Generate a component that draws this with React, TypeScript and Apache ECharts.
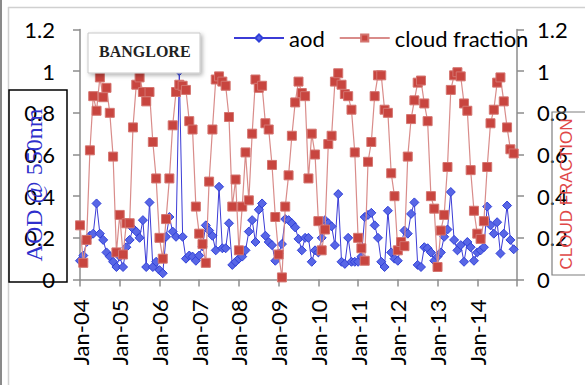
import React, { useEffect, useRef } from 'react';
import * as echarts from 'echarts';

// Year tick labels on the time axis (one tick every 12 months, Jan-2004 .. Jan-2015)
const yearTicks = ['Jan-04', 'Jan-05', 'Jan-06', 'Jan-07', 'Jan-08', 'Jan-09', 'Jan-10', 'Jan-11', 'Jan-12', 'Jan-13', 'Jan-14'];

// Monthly aerosol optical depth at 550 nm, one row per year (Jan..Dec)
const aod2004 = [0.09, 0.115, 0.18, 0.21, 0.22, 0.365, 0.22, 0.19, 0.13, 0.11, 0.085, 0.06];
const aod2005 = [0.11, 0.06, 0.155, 0.19, 0.245, 0.23, 0.2, 0.285, 0.06, 0.37, 0.06, 0.085];
const aod2006 = [0.045, 0.03, 0.205, 0.3, 0.23, 0.205, 1.0, 0.205, 0.1, 0.115, 0.11, 0.09];
const aod2007 = [0.115, 0.16, 0.26, 0.235, 0.21, 0.14, 0.445, 0.15, 0.15, 0.27, 0.07, 0.085];
const aod2008 = [0.1, 0.11, 0.14, 0.23, 0.285, 0.18, 0.335, 0.365, 0.21, 0.18, 0.165, 0.09];
const aod2009 = [0.125, 0.17, 0.29, 0.285, 0.27, 0.25, 0.195, 0.14, 0.2, 0.2, 0.085, 0.14];
const aod2010 = [0.13, 0.2, 0.285, 0.27, 0.255, 0.165, 0.41, 0.085, 0.075, 0.2, 0.085, 0.085];
const aod2011 = [0.085, 0.11, 0.3, 0.31, 0.32, 0.26, 0.2, 0.085, 0.06, 0.33, 0.13, 0.1];
const aod2012 = [0.09, 0.17, 0.235, 0.22, 0.315, 0.37, 0.07, 0.06, 0.155, 0.15, 0.13, 0.09];
const aod2013 = [0.11, 0.13, 0.205, 0.24, 0.42, 0.19, 0.14, 0.165, 0.085, 0.18, 0.155, 0.09];
const aod2014 = [0.13, 0.14, 0.155, 0.35, 0.26, 0.22, 0.275, 0.125, 0.22, 0.355, 0.19, 0.145];

// Monthly cloud fraction, one row per year (Jan..Dec)
const cf2004 = [0.26, 0.08, 0.19, 0.62, 0.88, 0.81, 0.97, 0.875, 0.92, 0.8, 0.59, 0.13];
const cf2005 = [0.31, 0.12, 0.27, 0.27, 0.73, 0.935, 0.97, 0.9, 0.855, 0.9, 0.66, 0.485];
const cf2006 = [0.2, 0.1, 0.29, 0.485, 0.74, 0.9, 0.935, 0.93, 0.91, 0.76, 0.72, 0.35];
const cf2007 = [0.22, 0.17, 0.08, 0.47, 0.72, 0.96, 0.975, 0.95, 0.93, 0.78, 0.35, 0.48];
const cf2008 = [0.14, 0.35, 0.61, 0.38, 0.7, 0.96, 0.92, 0.93, 0.75, 0.72, 0.55, 0.3];
const cf2009 = [0.12, 0.01, 0.35, 0.5, 0.69, 0.85, 0.95, 0.895, 0.88, 0.485, 0.7, 0.6];
const cf2010 = [0.28, 0.14, 0.24, 0.65, 0.69, 0.95, 0.99, 0.935, 0.89, 0.88, 0.815, 0.61];
const cf2011 = [0.2, 0.15, 0.09, 0.565, 0.66, 0.88, 0.98, 0.98, 0.815, 0.8, 0.51, 0.4];
const cf2012 = [0.14, 0.18, 0.16, 0.59, 0.77, 0.86, 0.945, 0.955, 0.845, 0.76, 0.4, 0.34];
const cf2013 = [0.06, 0.235, 0.31, 0.54, 0.91, 0.98, 0.995, 0.975, 0.845, 0.81, 0.525, 0.33];
const cf2014 = [0.22, 0.195, 0.28, 0.54, 0.75, 0.815, 0.945, 0.97, 0.855, 0.73, 0.625, 0.605];

const aodYears = [aod2004, aod2005, aod2006, aod2007, aod2008, aod2009, aod2010, aod2011, aod2012, aod2013, aod2014];
const cfYears = [cf2004, cf2005, cf2006, cf2007, cf2008, cf2009, cf2010, cf2011, cf2012, cf2013, cf2014];

// x = month index counted from Jan-2004
const toPoints = (rows: number[][]) => rows.flat().map((v, i) => [i, v]);

const axisGray = '#8C8C8C';
const labelFont = { fontFamily: 'Lato', fontSize: 22, color: '#000' };
const fmtY = (v: number) => String(+v.toFixed(1));

export default function App() {
  const ref = useRef<HTMLDivElement>(null);

  useEffect(() => {
    const chart = echarts.init(ref.current!, undefined, { renderer: 'svg' });
    const yAxisBase = {
      type: 'value',
      min: 0,
      max: 1.2,
      interval: 0.2,
      axisLine: { show: true, lineStyle: { color: axisGray, width: 1.5 } },
      axisTick: { show: true, length: 7, lineStyle: { color: axisGray, width: 1.5 } },
      splitLine: { show: false },
    };
    chart.setOption({
      animation: false,
      backgroundColor: '#ffffff',
      grid: { left: 80, right: 68, top: 29.5, bottom: 105.5 },
      legend: {
        left: 228,
        top: 22,
        itemWidth: 50,
        itemHeight: 9,
        itemGap: 14,
        textStyle: labelFont,
        data: ['aod', 'cloud fraction'],
      },
      xAxis: {
        type: 'value',
        min: 0,
        max: 132,
        interval: 12,
        axisLine: { show: true, onZero: false, lineStyle: { color: axisGray, width: 1.5 } },
        axisTick: { show: true, length: 7, lineStyle: { color: axisGray, width: 1.5 } },
        splitLine: { show: false },
        axisLabel: {
          ...labelFont,
          rotate: 90,
          margin: 20,
          padding: [8, 0, 0, 0],
          showMaxLabel: true,
          formatter: (v: number) => yearTicks[Math.round(v / 12)] ?? '',
        },
      },
      yAxis: [
        { ...yAxisBase, position: 'left', axisLabel: { ...labelFont, margin: 25, formatter: fmtY } },
        { ...yAxisBase, position: 'right', axisLabel: { ...labelFont, margin: 20, formatter: fmtY } },
      ],
      series: [
        {
          name: 'aod',
          type: 'line',
          yAxisIndex: 0,
          data: toPoints(aodYears),
          symbol: 'diamond',
          symbolSize: 9,
          showAllSymbol: true,
          lineStyle: { color: '#3B3BD6', width: 1 },
          itemStyle: { color: '#5866E6', borderColor: '#3040D8', borderWidth: 1 },
          z: 2,
        },
        {
          name: 'cloud fraction',
          type: 'line',
          yAxisIndex: 1,
          data: toPoints(cfYears),
          symbol: 'rect',
          symbolSize: 9,
          showAllSymbol: true,
          lineStyle: { color: '#D98C8A', width: 1.2 },
          itemStyle: { color: '#C8453F', borderColor: '#D47570', borderWidth: 1 },
          z: 3,
        },
      ],
      graphic: [
        // outer frame edges
        { type: 'line', shape: { x1: 1, y1: 0, x2: 1, y2: 385 }, style: { stroke: '#8A8A8A', lineWidth: 2 } },
        { type: 'line', shape: { x1: 8, y1: 7.5, x2: 585, y2: 7.5 }, style: { stroke: '#D0D0D0', lineWidth: 1.5 } },
        { type: 'line', shape: { x1: 8.5, y1: 7, x2: 8.5, y2: 385 }, style: { stroke: '#D0D0D0', lineWidth: 1.5 } },
        // left axis title box
        {
          type: 'rect',
          shape: { x: 9, y: 90, width: 58, height: 192 },
          style: { fill: 'none', stroke: '#000', lineWidth: 1.5 },
          z: 1,
        },
        {
          type: 'text',
          x: 34,
          y: 185,
          rotation: Math.PI / 2,
          style: {
            text: 'AOD @ 550nm',
            font: '24px "Liberation Serif"',
            fill: '#2F2FCC',
            align: 'center',
            verticalAlign: 'middle',
            textAlign: 'center',
            textVerticalAlign: 'middle',
          },
          z: 1,
        },
        // right axis title box
        {
          type: 'rect',
          shape: { x: 552, y: 112, width: 40, height: 163 },
          style: { fill: 'none', stroke: '#7F7F7F', lineWidth: 1.2 },
          z: 1,
        },
        {
          type: 'text',
          x: 566,
          y: 194,
          rotation: Math.PI / 2,
          style: {
            text: 'CLOUD FRACTION',
            font: '17px "Liberation Sans"',
            fill: '#E04848',
            align: 'center',
            verticalAlign: 'middle',
            textAlign: 'center',
            textVerticalAlign: 'middle',
          },
          z: 1,
        },
        // station name box
        {
          type: 'rect',
          shape: { x: 88, y: 33, width: 112, height: 40 },
          style: {
            fill: '#ffffff',
            stroke: '#C8C8C8',
            lineWidth: 1,
            shadowBlur: 4,
            shadowColor: 'rgba(0,0,0,0.3)',
            shadowOffsetX: 2,
            shadowOffsetY: 2,
          },
          z: 100,
        },
        {
          type: 'text',
          x: 99,
          y: 51,
          style: {
            text: 'BANGLORE',
            font: 'bold 16px "Liberation Serif"',
            fill: '#222',
            align: 'left',
            verticalAlign: 'middle',
            textAlign: 'left',
            textVerticalAlign: 'middle',
          },
          z: 101,
        },
      ],
    });
    return () => chart.dispose();
  }, []);

  return (
    <div
      ref={ref}
      style={{ position: 'absolute', left: 0, top: 0, width: 585, height: 385, background: '#fff' }}
    />
  );
}
